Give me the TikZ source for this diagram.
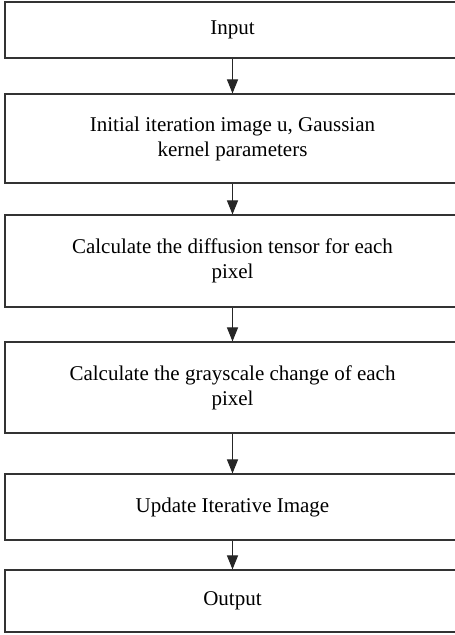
\documentclass[tikz,border=0pt]{standalone}
\usepackage{fontspec}
\setmainfont{Liberation Serif}
\usetikzlibrary{arrows.meta}
\begin{document}
\begin{tikzpicture}[x=1pt,y=-1pt,
  box/.style={draw=black!80, line width=1.1pt, minimum width=455pt, inner sep=0pt, align=center,
    font=\fontsize{21}{25}\selectfont},
  flow/.style={draw=black!85, line width=1pt, -{Triangle[length=14pt,width=11pt]}}]
\path[use as bounding box, clip] (0,0) rectangle (455,635);
\node[box, minimum height=56pt] (n1) at (232.5,30) {Input};
\node[box, minimum height=89pt] (n2) at (232.5,138.5) {Initial iteration image u, Gaussian\\kernel parameters};
\node[box, minimum height=92pt] (n3) at (232.5,261) {Calculate the diffusion tensor for each\\pixel};
\node[box, minimum height=91pt] (n4) at (232.5,387.5) {Calculate the grayscale change of each\\pixel};
\node[box, minimum height=66pt] (n5) at (232.5,507) {Update Iterative Image};
\node[box, minimum height=62pt] (n6) at (232.5,601) {Output};
\draw[flow] (n1.south) -- (n2.north);
\draw[flow] (n2.south) -- (n3.north);
\draw[flow] (n3.south) -- (n4.north);
\draw[flow] (n4.south) -- (n5.north);
\draw[flow] (n5.south) -- (n6.north);
\end{tikzpicture}
\end{document}
